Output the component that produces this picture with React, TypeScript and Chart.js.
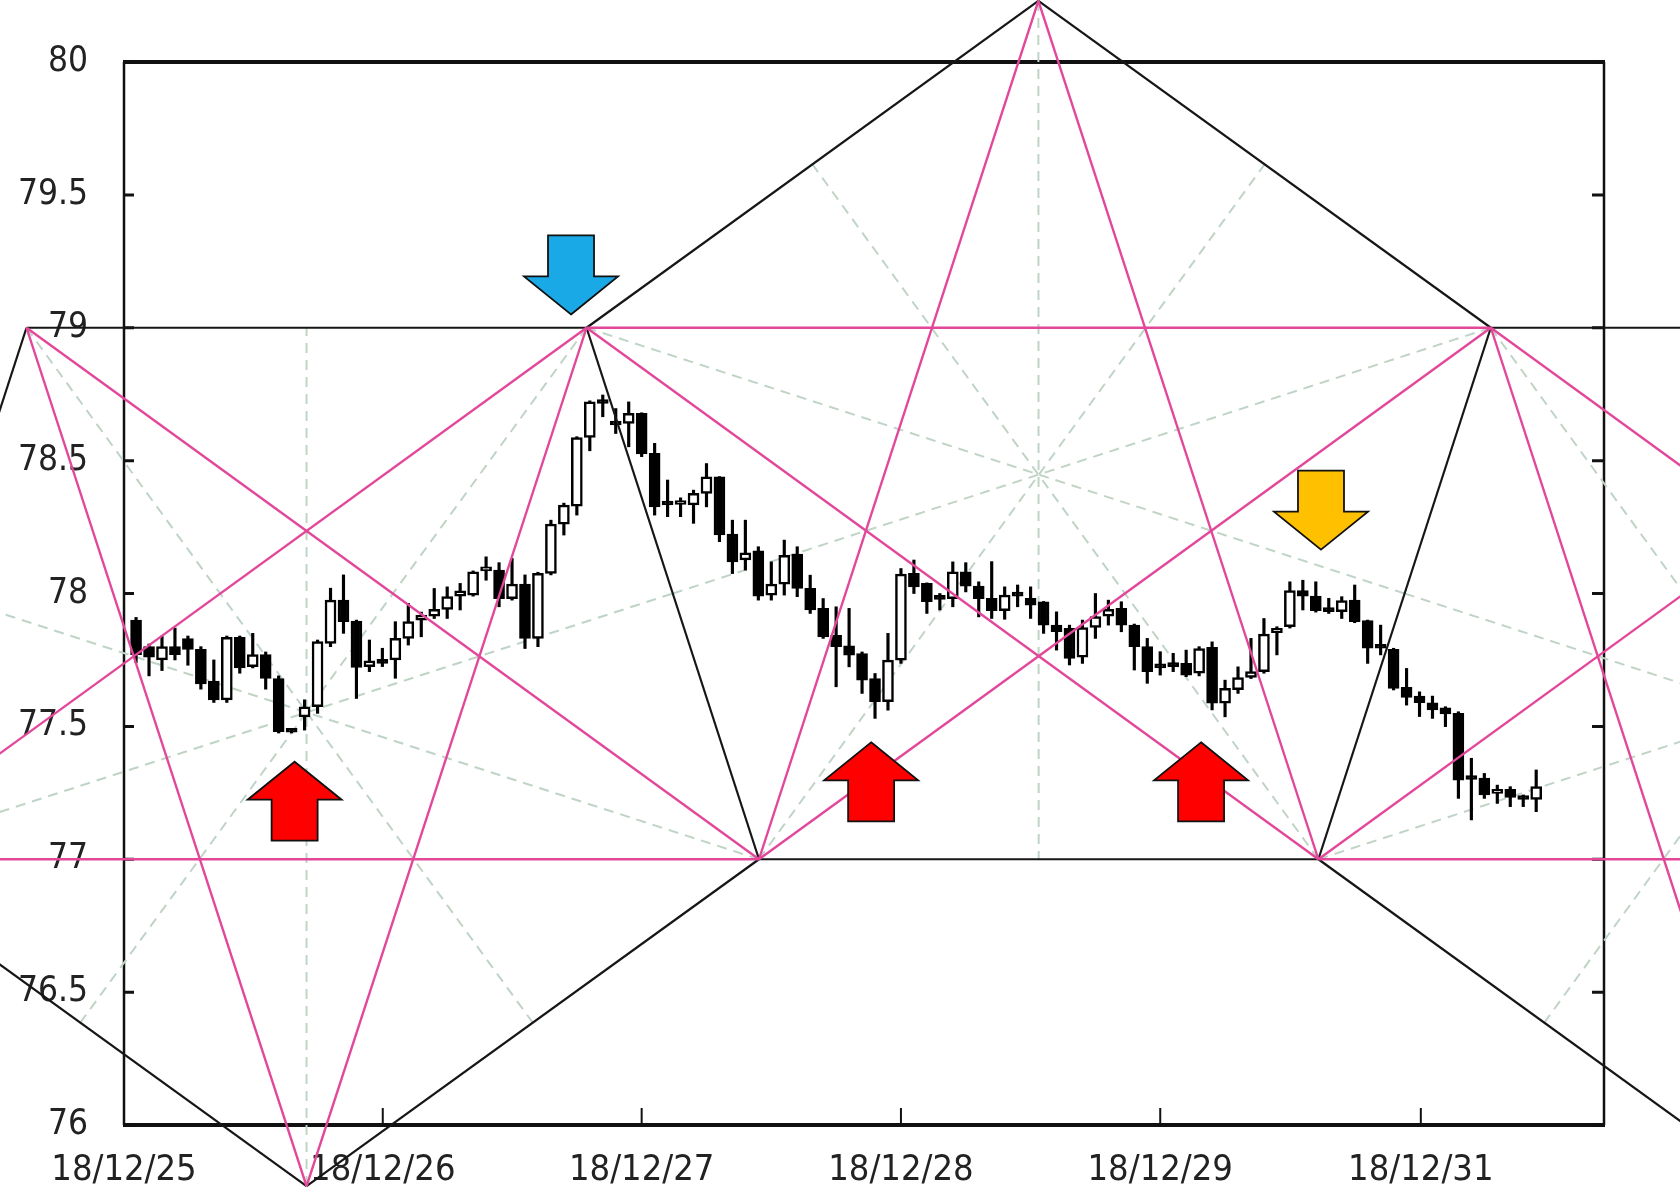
import React, { useEffect, useRef } from 'react';
import { Chart, registerables } from 'chart.js';
Chart.register(...registerables);

// ---- Candle data (bar index units on x) ----
const candleOpen = [
  77.90, 77.80, 77.75, 77.80, 77.83, 77.79, 77.67, 77.60, 77.835, 77.725,
  77.77, 77.68, 77.48, 77.536, 77.574, 77.812, 77.975, 77.896, 77.725, 77.74,
  77.75, 77.831, 77.90, 77.915, 77.94, 77.99, 77.994, 78.085, 78.088, 77.981,
  78.035, 77.831, 78.076, 78.261, 78.329, 78.587, 78.72, 78.646, 78.64, 78.678,
  78.527, 78.337, 78.335, 78.333, 78.377, 78.439, 78.224, 78.126, 78.161, 77.994,
  78.035, 78.148, 78.019, 77.944, 77.843, 77.803, 77.774, 77.68, 77.593, 77.749,
  78.076, 78.038, 77.981, 77.981, 78.082, 78.028, 77.982, 77.935, 77.995, 77.982,
  77.969, 77.881, 77.869, 77.76, 77.872, 77.915, 77.944, 77.881, 77.80, 77.725,
  77.728, 77.737, 77.70, 77.797, 77.587, 77.638, 77.684, 77.706, 77.853, 77.875,
  78.011, 77.99, 77.935, 77.932, 77.975, 77.898, 77.796, 77.79, 77.647, 77.614,
  77.589, 77.57, 77.549, 77.305, 77.305, 77.248, 77.263, 77.226, 77.225,
];
const candleHigh = [
  77.91, 77.81, 77.84, 77.87, 77.84, 77.80, 77.75, 77.84, 77.84, 77.85,
  77.78, 77.69, 77.485, 77.60, 77.825, 78.02, 78.07, 77.90, 77.825, 77.794,
  77.894, 77.963, 77.93, 78.019, 78.025, 78.038, 78.085, 78.138, 78.116, 78.132,
  78.07, 78.08, 78.276, 78.34, 78.59, 78.725, 78.747, 78.696, 78.721, 78.68,
  78.565, 78.427, 78.36, 78.389, 78.489, 78.44, 78.276, 78.276, 78.176, 78.119,
  78.201, 78.176, 78.069, 77.981, 77.95, 77.944, 77.78, 77.699, 77.85, 78.094,
  78.126, 78.04, 78.0, 78.119, 78.116, 78.044, 78.12, 78.025, 78.032, 78.025,
  77.97, 77.931, 77.881, 77.90, 78.0, 77.975, 77.969, 77.885, 77.831, 77.781,
  77.775, 77.787, 77.80, 77.818, 77.674, 77.724, 77.831, 77.906, 77.875, 78.044,
  78.05, 78.044, 77.982, 77.988, 78.032, 77.90, 77.881, 77.794, 77.718, 77.63,
  77.614, 77.574, 77.555, 77.38, 77.323, 77.279, 77.273, 77.242, 77.336,
];
const candleLow = [
  77.74, 77.69, 77.71, 77.75, 77.73, 77.64, 77.59, 77.59, 77.70, 77.72,
  77.64, 77.475, 77.475, 77.486, 77.549, 77.80, 77.85, 77.605, 77.706, 77.725,
  77.681, 77.806, 77.837, 77.906, 77.906, 77.938, 77.99, 78.05, 77.95, 77.975,
  77.793, 77.80, 78.07, 78.22, 78.295, 78.537, 78.665, 78.602, 78.552, 78.515,
  78.295, 78.289, 78.289, 78.264, 78.326, 78.195, 78.075, 78.088, 77.975, 77.975,
  77.994, 77.988, 77.925, 77.831, 77.649, 77.724, 77.624, 77.53, 77.561, 77.737,
  78.0, 77.925, 77.938, 77.95, 78.006, 77.912, 77.906, 77.903, 77.95, 77.906,
  77.85, 77.787, 77.731, 77.737, 77.831, 77.881, 77.856, 77.712, 77.662, 77.693,
  77.706, 77.687, 77.69, 77.562, 77.536, 77.624, 77.68, 77.70, 77.769, 77.87,
  77.938, 77.93, 77.925, 77.906, 77.89, 77.737, 77.769, 77.637, 77.58, 77.537,
  77.53, 77.499, 77.229, 77.148, 77.229, 77.21, 77.198, 77.198, 77.179,
];
const candleClose = [
  77.77, 77.76, 77.80, 77.77, 77.79, 77.66, 77.60, 77.835, 77.72, 77.77,
  77.68, 77.48, 77.478, 77.574, 77.819, 77.975, 77.894, 77.722, 77.747, 77.737,
  77.831, 77.894, 77.919, 77.94, 77.988, 78.01, 78.082, 78.09, 77.981, 78.035,
  77.831, 78.076, 78.261, 78.333, 78.587, 78.721, 78.715, 78.634, 78.678, 78.525,
  78.326, 78.333, 78.338, 78.377, 78.439, 78.22, 78.119, 78.153, 77.99, 78.035,
  78.144, 78.019, 77.938, 77.837, 77.80, 77.768, 77.674, 77.593, 77.749, 78.073,
  78.025, 77.969, 77.978, 78.082, 78.028, 77.981, 77.935, 77.994, 77.99, 77.956,
  77.881, 77.856, 77.756, 77.872, 77.913, 77.94, 77.881, 77.80, 77.706, 77.72,
  77.725, 77.693, 77.793, 77.587, 77.643, 77.684, 77.706, 77.847, 77.869, 78.011,
  77.99, 77.935, 77.932, 77.973, 77.894, 77.794, 77.794, 77.643, 77.609, 77.589,
  77.562, 77.547, 77.298, 77.30, 77.242, 77.263, 77.233, 77.225, 77.273,
];

// ---- Axes ----
const yMin = 76;
const yMax = 80;
const yTickValues = [76, 76.5, 77, 77.5, 78, 78.5, 79, 79.5, 80];
const xMin = -0.93;
const xMax = 113.23;
const xTickPositions = [-0.93, 19.03, 39.0, 59.0, 79.0, 99.1];
const xTickLabels = ['18/12/25', '18/12/26', '18/12/27', '18/12/28', '18/12/29', '18/12/31'];

// ---- Pentagram pivots (x in bar index units, y in price) ----
const pivotNames = ['H', 'A', 'G', 'B', 'C', 'F', 'E', 'D', 'G3', 'D2', 'E2'];
const pivotIdx = [-21.75, -8.45, 13.15, 34.75, 48.05, 69.6, 91.2, 104.5, 126.05, 147.65, 160.95];
const pivotPrice = [77, 79, 75.77, 79, 77, 80.23, 77, 79, 75.77, 79, 77];
// vertices of each pentagon in circular order
const pentagonA = ['B', 'A', 'H', 'G', 'C'];
const pentagonB = ['F', 'B', 'C', 'E', 'D'];
const pentagonC = ['D2', 'D', 'E', 'G3', 'E2'];

// ---- Arrow annotations (tip position) ----
const arrowIdx = [33.55, 12.23, 56.7, 82.15, 91.4];
const arrowPrice = [79.05, 77.367, 77.44, 77.44, 78.165];
const arrowDir = ['down', 'up', 'up', 'up', 'down'];
const arrowColor = ['#19A9E6', '#FF0000', '#FF0000', '#FF0000', '#FFC000'];

const PINK = '#E2479A';
const BLACK = '#161616';
const DASH = 'rgba(192,212,198,1)';
const FONT = "'DejaVu Sans Condensed', 'Liberation Sans Narrow', sans-serif";

function pt(name: string) {
  const k = pivotNames.indexOf(name);
  return { x: pivotIdx[k], y: pivotPrice[k] };
}

function buildLineDatasets() {
  const pentagons = [pentagonA, pentagonB, pentagonC];
  const seen = new Set<string>();
  const ds: any[] = [];
  const seg = (p: any, q: any, color: string, width: number, dash: number[], order: number) => ({
    type: 'line',
    data: [p, q],
    borderColor: color,
    borderWidth: width,
    borderDash: dash,
    pointRadius: 0,
    pointHoverRadius: 0,
    fill: false,
    tension: 0,
    clip: false,
    order,
  });
  for (const pg of pentagons) {
    const n = pg.length;
    for (let k = 0; k < n; k++) {
      const v = pt(pg[k]);
      const a = pt(pg[(k + 2) % n]);
      const b = pt(pg[(k + 3) % n]);
      ds.push(seg(v, { x: (a.x + b.x) / 2, y: (a.y + b.y) / 2 }, DASH, 2, [10, 7], 20));
    }
    for (let k = 0; k < n; k++) {
      const e1 = [pg[k], pg[(k + 1) % n]].sort().join('-');
      if (!seen.has(e1)) {
        seen.add(e1);
        ds.push(seg(pt(pg[k]), pt(pg[(k + 1) % n]), BLACK, 2.2, [], 2));
      }
      const e2 = [pg[k], pg[(k + 2) % n]].sort().join('-');
      if (!seen.has(e2)) {
        seen.add(e2);
        ds.push(seg(pt(pg[k]), pt(pg[(k + 2) % n]), PINK, 2.4, [], 1));
      }
    }
  }
  return ds;
}

const framePlugin = {
  id: 'frame',
  beforeDatasetsDraw(chart: any) {
    const { ctx, chartArea } = chart;
    const { left, right, top, bottom } = chartArea;
    const x = chart.scales.x;
    const y = chart.scales.y;
    ctx.save();
    ctx.strokeStyle = '#111';
    ctx.lineCap = 'butt';
    ctx.lineWidth = 4;
    ctx.beginPath();
    ctx.moveTo(left - 1, top);
    ctx.lineTo(right + 1, top);
    ctx.moveTo(left - 1, bottom);
    ctx.lineTo(right + 1, bottom);
    ctx.stroke();
    ctx.lineWidth = 2.5;
    ctx.beginPath();
    ctx.moveTo(left, top);
    ctx.lineTo(left, bottom);
    ctx.moveTo(right, top);
    ctx.lineTo(right, bottom);
    ctx.stroke();
    ctx.lineWidth = 3;
    ctx.beginPath();
    for (const v of yTickValues) {
      const py = y.getPixelForValue(v);
      ctx.moveTo(left, py);
      ctx.lineTo(left + 10, py);
      ctx.moveTo(right, py);
      ctx.lineTo(right - 12, py);
    }
    ctx.stroke();
    ctx.lineWidth = 2;
    ctx.beginPath();
    for (const v of xTickPositions) {
      const px = x.getPixelForValue(v);
      ctx.moveTo(px, bottom);
      ctx.lineTo(px, bottom - 17);
    }
    ctx.stroke();
    ctx.restore();
  },
  afterDatasetsDraw(chart: any) {
    const { ctx } = chart;
    const x = chart.scales.x;
    const y = chart.scales.y;
    const H = 79;
    const hh = 38;
    const hw = 94;
    const sw = 46;
    ctx.save();
    for (let i = 0; i < arrowIdx.length; i++) {
      const tx = x.getPixelForValue(arrowIdx[i]);
      const ty = y.getPixelForValue(arrowPrice[i]);
      const s = arrowDir[i] === 'down' ? -1 : 1;
      ctx.beginPath();
      ctx.moveTo(tx, ty);
      ctx.lineTo(tx + hw / 2, ty + s * hh);
      ctx.lineTo(tx + sw / 2, ty + s * hh);
      ctx.lineTo(tx + sw / 2, ty + s * H);
      ctx.lineTo(tx - sw / 2, ty + s * H);
      ctx.lineTo(tx - sw / 2, ty + s * hh);
      ctx.lineTo(tx - hw / 2, ty + s * hh);
      ctx.closePath();
      ctx.fillStyle = arrowColor[i];
      ctx.fill();
      ctx.lineWidth = 1.8;
      ctx.strokeStyle = '#111';
      ctx.lineJoin = 'miter';
      ctx.stroke();
    }
    ctx.restore();
  },
};

export default function App() {
  const canvasRef = useRef<HTMLCanvasElement | null>(null);

  useEffect(() => {
    const canvas = canvasRef.current;
    if (!canvas) return;

    const wicks = candleLow.map((l, i) => ({ x: i, y: [l, candleHigh[i]] }));
    const bodies = candleOpen.map((o, i) => ({ x: i, y: [o, candleClose[i]] }));
    const bodyFill = candleOpen.map((o, i) => (candleClose[i] >= o ? '#ffffff' : '#000000'));

    const datasets: any[] = [
      {
        type: 'bar',
        data: wicks,
        backgroundColor: '#000',
        borderWidth: 0,
        barThickness: 2.5,
        grouped: false,
        order: 6,
      },
      {
        type: 'bar',
        data: bodies,
        backgroundColor: bodyFill,
        borderColor: '#000',
        borderWidth: 2.5,
        borderSkipped: false,
        barThickness: 11,
        minBarLength: 4,
        grouped: false,
        order: 5,
      },
      ...buildLineDatasets(),
    ];

    const chart = new Chart(canvas, {
      type: 'bar',
      data: { datasets },
      options: {
        responsive: false,
        devicePixelRatio: 1,
        animation: false,
        events: [],
        layout: { padding: { left: 0, top: 62, right: 76, bottom: 0 } },
        plugins: { legend: { display: false }, tooltip: { enabled: false } },
        scales: {
          x: {
            type: 'linear',
            min: xMin,
            max: xMax,
            offset: false,
            grid: { display: false, drawTicks: false },
            border: { display: false },
            afterBuildTicks: (scale: any) => {
              scale.ticks = xTickPositions.map((v) => ({ value: v }));
            },
            afterFit: (scale: any) => {
              scale.height = 74;
            },
            ticks: {
              autoSkip: false,
              maxRotation: 0,
              minRotation: 0,
              padding: 24,
              color: '#222',
              font: { family: FONT, size: 36 },
              callback: (_v: any, idx: number) => xTickLabels[idx],
            },
          },
          y: {
            type: 'linear',
            min: yMin,
            max: yMax,
            grid: { display: false, drawTicks: false },
            border: { display: false },
            afterFit: (scale: any) => {
              scale.width = 124;
            },
            ticks: {
              stepSize: 0.5,
              padding: 36,
              color: '#222',
              font: { family: FONT, size: 35 },
              callback: (v: any) => String(Math.round(Number(v) * 10) / 10),
            },
          },
        },
      } as any,
      plugins: [framePlugin],
    } as any);

    return () => chart.destroy();
  }, []);

  return (
    <div style={{ position: 'fixed', left: 0, top: 0, width: 1680, height: 1199, background: '#fff' }}>
      <canvas ref={canvasRef} width={1680} height={1199} style={{ display: 'block' }} />
    </div>
  );
}
